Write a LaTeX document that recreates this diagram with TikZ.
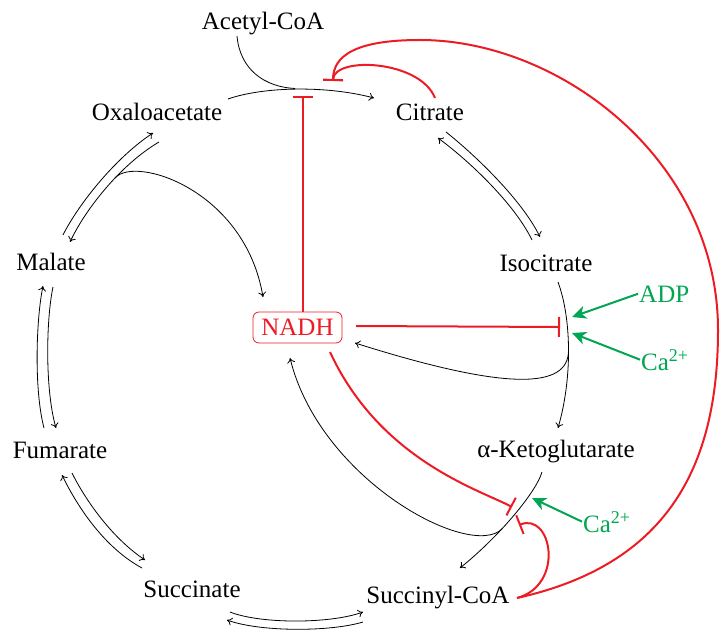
\documentclass[tikz,border=0pt]{standalone}
\usepackage{fontspec}
\setmainfont{Liberation Serif}
\usetikzlibrary{arrows.meta}
\definecolor{inhib}{RGB}{237,28,36}
\definecolor{activ}{RGB}{0,166,81}
\newcommand{\ionsup}[1]{\raisebox{9pt}{\fontsize{18}{18}\selectfont #1}}
\begin{document}
\begin{tikzpicture}[x=1pt,y=-1pt,
  every node/.style={font=\fontsize{25}{29}\selectfont, inner sep=1pt},
  metab/.style={anchor=base},
  effector/.style={anchor=base west, text=activ},
  cofactor/.style={draw=inhib, text=inhib, rounded corners=6pt, line width=0.8pt,
    minimum width=89pt, minimum height=31pt, inner sep=0pt},
  flux/.style={line width=0.8pt, -{To[length=5pt,width=8pt]}},
  feed/.style={line width=0.8pt},
  inhibit/.style={draw=inhib, line width=2pt, -{Bar[width=20pt]}},
  activate/.style={draw=activ, line width=2pt, -{Stealth[length=14pt,width=13pt,inset=4pt]}},
]
\useasboundingbox (0,0) rectangle (720,631);

% metabolites
\node[metab] (acetyl) at (263,30)  {Acetyl-CoA};
\node[metab] (oxa)    at (157,121) {Oxaloacetate};
\node[metab] (cit)    at (430,121) {Citrate};
\node[metab] (mal)    at (51,270)  {Malate};
\node[metab] (iso)    at (546,271) {Isocitrate};
\node[metab] (akg)    at (556,457) {α-Ketoglutarate};
\node[metab] (fum)    at (60,458)  {Fumarate};
\node[metab] (succ)   at (192,597) {Succinate};
\node[metab] (sca)    at (438,603) {Succinyl-CoA};
\node[cofactor] (nadh) at (297.5,327.5) {NADH};

% allosteric activators
\node[effector] (adp) at (638,302) {ADP};
\node[effector] (ca1) at (640,370) {Ca\ionsup{2+}};
\node[effector] (ca2) at (582,532) {Ca\ionsup{2+}};

% reaction end points
\coordinate (oxaOut) at (228,99);
\coordinate (citIn)  at (374,98);
\coordinate (acOut)  at (237,36);
\coordinate (csJoin) at (295,88.5);
\coordinate (csBar)  at (303,96);
\coordinate (csFb)   at (333,81);
\coordinate (citFb)  at (435,98);
\coordinate (citOut) at (446,132);
\coordinate (isoIn)  at (540,237);
\coordinate (isoOut) at (532,240);
\coordinate (citIn2) at (438,138);
\coordinate (isoDn)  at (558,282);
\coordinate (akgIn)  at (558,428);
\coordinate (idhFork) at (568.5,351);
\coordinate (nadhIn1) at (355,343);
\coordinate (nadhOut) at (356,326);
\coordinate (idhBar) at (560,327);
\coordinate (idhAct1) at (572,317);
\coordinate (idhAct2) at (572,333);
\coordinate (akgDn)  at (542,472);
\coordinate (scaIn)  at (460,568);
\coordinate (kgFork) at (502,529);
\coordinate (nadhIn2) at (290,358);
\coordinate (nadhOut2) at (330,352);
\coordinate (kgBar1) at (512,507);
\coordinate (kgBar2) at (519,525);
\coordinate (kgAct)  at (532,498);
\coordinate (scaOut) at (517,598);
\coordinate (succOut) at (230,612);
\coordinate (scaIn2) at (363,612);
\coordinate (scaOut2) at (363,622);
\coordinate (succIn) at (227,620);
\coordinate (fumOut) at (72,473);
\coordinate (succIn2) at (145,560);
\coordinate (succOut2) at (142,568);
\coordinate (fumIn) at (62,475);
\coordinate (fumOut2) at (44,428);
\coordinate (malIn) at (43,286);
\coordinate (malOut) at (53,287);
\coordinate (fumIn2) at (56,428);
\coordinate (malOut2) at (63,235);
\coordinate (oxaIn) at (153,133);
\coordinate (oxaOut2) at (159,142);
\coordinate (malIn2) at (70,242);
\coordinate (mdhFork) at (115,178);
\coordinate (nadhIn3) at (263,297);

% citrate synthase
\draw[flux] (oxaOut) .. controls (262,87) and (325,85) .. (citIn);
\draw[feed] (acOut) .. controls (240,70) and (265,87) .. (csJoin);
\draw[inhibit] (nadh.north -| csBar) -- (csBar);
\draw[inhibit] (citFb) .. controls (420,60) and (334,56) .. (csFb);
\draw[inhibit] (scaOut) .. controls (665,565) and (718,470) .. (718,330)
  .. controls (718,160) and (560,40) .. (420,40)
  .. controls (355,40) and (333,56) .. (csFb);

% aconitase
\draw[flux] (citOut) .. controls (475,155) and (522,200) .. (isoIn);
\draw[flux] (isoOut) .. controls (514,203) and (468,160) .. (citIn2);

% isocitrate dehydrogenase
\draw[flux] (isoDn) .. controls (572,320) and (572,380) .. (akgIn);
\draw[flux] (idhFork) .. controls (568,388) and (510,392) .. (nadhIn1);
\draw[inhibit] (nadhOut) -- (idhBar);
\draw[activate] (adp.west) -- (idhAct1);
\draw[activate] (ca1.west) -- (idhAct2);

% alpha-ketoglutarate dehydrogenase
\draw[flux] (akgDn) .. controls (535,495) and (495,540) .. (scaIn);
\draw[flux] (kgFork) .. controls (470,560) and (320,480) .. (nadhIn2);
\draw[inhibit] (nadhOut2) .. controls (380,460) and (480,490) .. (kgBar1);
\draw[inhibit] (scaOut) .. controls (565,585) and (552,512) .. (kgBar2);
\draw[activate] (ca2.west) -- (kgAct);

% succinyl-CoA synthetase
\draw[flux] (succOut) .. controls (260,624) and (330,624) .. (scaIn2);
\draw[flux] (scaOut2) .. controls (330,632) and (260,632) .. (succIn);

% succinate dehydrogenase
\draw[flux] (fumOut) .. controls (88,505) and (115,540) .. (succIn2);
\draw[flux] (succOut2) .. controls (105,548) and (78,508) .. (fumIn);

% fumarase
\draw[flux] (fumOut2) .. controls (34,390) and (36,320) .. (malIn);
\draw[flux] (malOut) .. controls (46,320) and (45,390) .. (fumIn2);

% malate dehydrogenase
\draw[flux] (malOut2) .. controls (78,205) and (115,158) .. (oxaIn);
\draw[flux] (oxaOut2) .. controls (120,165) and (85,210) .. (malIn2);
\draw[flux] (mdhFork) .. controls (135,155) and (245,190) .. (nadhIn3);
\end{tikzpicture}
\end{document}
